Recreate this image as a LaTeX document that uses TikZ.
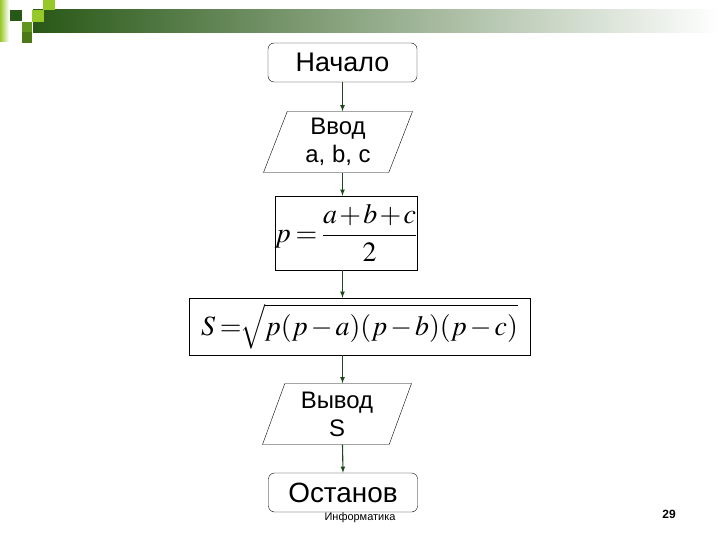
\documentclass[tikz,border=0pt]{standalone}
\usepackage{amsmath}
\usepackage{mathptmx}
\DeclareSymbolFont{cmsyfont}{OMS}{cmsy}{m}{n}
\DeclareSymbolFont{cmexfont}{OMX}{cmex}{m}{n}
\DeclareMathRadical{\sqrtsign}{cmsyfont}{"70}{cmexfont}{"70}
\usepackage[no-math]{fontspec}
\newfontfamily\arial{Liberation Sans}
\definecolor{darkgreen}{RGB}{40,88,22}
\definecolor{midgreen}{RGB}{96,150,30}
\definecolor{limegreen}{RGB}{150,200,40}
\definecolor{arrowgreen}{RGB}{28,72,28}
\usetikzlibrary{shapes.geometric,arrows,positioning,calc}

\tikzset{
  startstop/.style={draw,rounded corners=6bp,minimum width=149bp,minimum height=39bp,inner sep=0pt,font=\arial\fontsize{27}{29}\selectfont},
  iobox/.style={draw,trapezium,trapezium left angle=63.4,trapezium right angle=116.6,trapezium stretches body,minimum width=149bp,minimum height=61bp,inner sep=0pt,align=center,font=\arial\fontsize{24}{28}\selectfont},
  calcbox/.style={draw,inner sep=0pt,font=\fontsize{28}{30}\selectfont},
  flow/.style={->,>=latex,arrowgreen,line width=1.1bp}
}

\begin{document}
\begin{tikzpicture}[x=1bp,y=-1bp]
  \useasboundingbox (0,0) rectangle (720,540);

  % Header
  \shade[left color=darkgreen,middle color=black!25!green!10!gray!60,right color=white] (33,10) rectangle (720,33);
  \shade[left color=limegreen,right color=white] (0,0) rectangle (9,42);
  \fill[darkgreen] (10,10) rectangle (22,21);
  \fill[limegreen] (32,10) rectangle (44,22);
  \fill[limegreen] (43,0) rectangle (55,10);
  \fill[midgreen] (22,22) rectangle (32,32);
  \fill[midgreen!80!black] (22,32) rectangle (32,43);

  % Blocks
  \node[startstop] (nachalo) at (342.5,62.5) {Начало};
  \node[iobox] (vvod) at (338,142) {Ввод\\a, b, c};
  \node[calcbox,minimum width=142bp,minimum height=74bp] (pcalc) at (346,233)
    {$\thickmuskip=3mu\medmuskip=1.5mu p=\dfrac{a+b+c}{2}$};
  \node[calcbox,minimum width=341bp,minimum height=57bp] (scalc) at (359.5,326.5)
    {$\thickmuskip=3mu\medmuskip=2mu S=\mkern-4mu\sqrt{p(p-a)(p-b)(p-c)}$};
  \node[iobox] (vyvod) at (337,414) {Вывод\\S};
  \node[startstop,font=\arial\fontsize{28}{30}\selectfont] (ostanov) at (343,492.5) {Останов};

  % Connectors
  \draw[flow] (nachalo.south) -- (nachalo.south |- vvod.north);
  \draw[flow] (nachalo.south |- vvod.south) -- (nachalo.south |- pcalc.north);
  \draw[flow] (nachalo.south |- pcalc.south) -- (nachalo.south |- scalc.north);
  \draw[flow] (nachalo.south |- scalc.south) -- (nachalo.south |- vyvod.north);
  \draw[flow] (nachalo.south |- vyvod.south) -- (ostanov.north);

  % Footer
  \node[font=\arial\fontsize{11}{13}\selectfont] (subject) at (360,518) {Информатика};
  \node[font=\arial\bfseries\fontsize{12}{14}\selectfont] (pagenum) at (669,514) {29};
\end{tikzpicture}
\end{document}
